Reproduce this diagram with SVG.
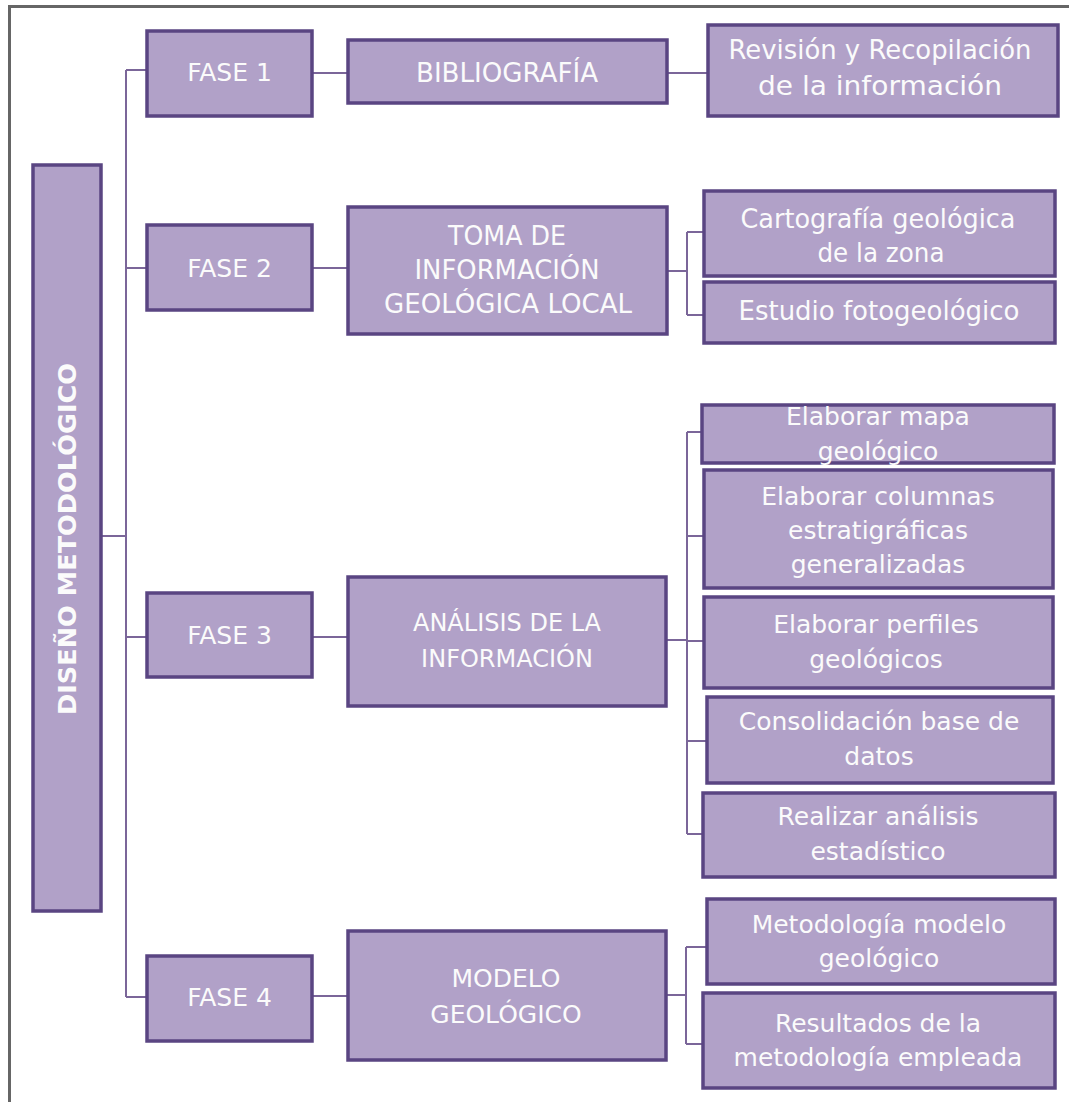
<svg xmlns="http://www.w3.org/2000/svg" width="1069" height="1102" viewBox="0 0 1069 1102">
<style>
.box{fill:#b1a1c8;stroke:#5a4582;stroke-width:3.5}
.t{font-family:"DejaVu Sans",Verdana,sans-serif;font-size:25px;fill:#fbfbfb;text-anchor:middle}
.n{font-family:"DejaVu Sans",Tahoma,sans-serif;font-size:27px;fill:#fbfbfb;text-anchor:middle}
.v{font-family:"DejaVu Sans",Verdana,sans-serif;font-size:24px;font-weight:bold;fill:#fbfbfb;text-anchor:middle}
.c{stroke:#7b6699;stroke-width:2;fill:none}
.frame{stroke:#666666;stroke-width:3;fill:none}
</style>
<rect width="1069" height="1102" fill="#ffffff"/>
<path class="frame" d="M9.5,1102 V6.5 H1069"/>
<g id="connectors">
<path class="c" d="M126,70 V997"/>
<path class="c" d="M101,536 H126"/>
<path class="c" d="M126,70 H147 M126,268 H147 M126,637 H147 M126,997 H147"/>
<path class="c" d="M312,73 H348 M667,73 H708"/>
<path class="c" d="M312,268 H348 M667,271 H687 M687,232 V315 M687,232 H704 M687,315 H704"/>
<path class="c" d="M312,637 H348 M666,640 H687 M687,432 V834 M687,432 H702 M687,536 H704 M687,641 H704 M687,741 H707 M687,834 H703"/>
<path class="c" d="M312,996 H348 M666,995 H686 M686,947 V1044 M686,947 H707 M686,1044 H703"/>
</g>
<g id="diseno">
<rect class="box" x="33" y="165" width="68" height="746"/>
<text class="v" transform="translate(75.5,539) rotate(-90)" textLength="352" lengthAdjust="spacingAndGlyphs">DISEÑO METODOLÓGICO</text>
</g>
<g id="fase1">
<rect class="box" x="147" y="31" width="165" height="85"/>
<text class="t" x="229.5" y="81">FASE 1</text>
</g>
<g id="fase2">
<rect class="box" x="147" y="225" width="165" height="85"/>
<text class="t" x="229.5" y="277">FASE 2</text>
</g>
<g id="fase3">
<rect class="box" x="147" y="593" width="165" height="84"/>
<text class="t" x="229.5" y="644">FASE 3</text>
</g>
<g id="fase4">
<rect class="box" x="147" y="956" width="165" height="85"/>
<text class="t" x="229.5" y="1006">FASE 4</text>
</g>
<g id="bibliografia">
<rect class="box" x="348" y="40" width="319" height="63"/>
<text class="n" x="507" y="82" textLength="182" lengthAdjust="spacingAndGlyphs">BIBLIOGRAFÍA</text>
</g>
<g id="revision">
<rect class="box" x="708" y="25" width="350" height="91"/>
<text class="n" x="880" y="59" textLength="303" lengthAdjust="spacingAndGlyphs">Revisión y Recopilación</text>
<text class="n" x="880" y="95" textLength="244" lengthAdjust="spacingAndGlyphs">de la información</text>
</g>
<g id="toma">
<rect class="box" x="348" y="207" width="319" height="127"/>
<text class="n" x="507" y="245" textLength="118" lengthAdjust="spacingAndGlyphs">TOMA DE</text>
<text class="n" x="507" y="279" textLength="185" lengthAdjust="spacingAndGlyphs">INFORMACIÓN</text>
<text class="n" x="508" y="313" textLength="248" lengthAdjust="spacingAndGlyphs">GEOLÓGICA LOCAL</text>
</g>
<g id="cartografia">
<rect class="box" x="704" y="191" width="351" height="85"/>
<text class="n" x="878" y="228" textLength="275" lengthAdjust="spacingAndGlyphs">Cartografía geológica</text>
<text class="n" x="881" y="262" textLength="127" lengthAdjust="spacingAndGlyphs">de la zona</text>
</g>
<g id="estudio">
<rect class="box" x="704" y="282" width="351" height="61"/>
<text class="n" x="879" y="320" textLength="281" lengthAdjust="spacingAndGlyphs">Estudio fotogeológico</text>
</g>
<g id="analisis">
<rect class="box" x="348" y="577" width="318" height="129"/>
<text class="t" x="507" y="631" style="font-size:24px">ANÁLISIS DE LA</text>
<text class="t" x="507" y="667" style="font-size:24px">INFORMACIÓN</text>
</g>
<g id="mapa">
<rect class="box" x="702" y="405" width="352" height="58"/>
<text class="t" x="878" y="425">Elaborar mapa</text>
<text class="t" x="878" y="460">geológico</text>
</g>
<g id="columnas">
<rect class="box" x="704" y="470" width="349" height="118"/>
<text class="t" x="878" y="505">Elaborar columnas</text>
<text class="t" x="878" y="539">estratigráficas</text>
<text class="t" x="878" y="573">generalizadas</text>
</g>
<g id="perfiles">
<rect class="box" x="704" y="597" width="349" height="91"/>
<text class="t" x="876" y="633">Elaborar perfiles</text>
<text class="t" x="876" y="668">geológicos</text>
</g>
<g id="consolidacion">
<rect class="box" x="707" y="697" width="346" height="86"/>
<text class="t" x="879" y="730">Consolidación base de</text>
<text class="t" x="879" y="765">datos</text>
</g>
<g id="realizar">
<rect class="box" x="703" y="793" width="352" height="84"/>
<text class="t" x="878" y="825">Realizar análisis</text>
<text class="t" x="878" y="860">estadístico</text>
</g>
<g id="modelo">
<rect class="box" x="348" y="931" width="318" height="129"/>
<text class="t" x="506" y="987">MODELO</text>
<text class="t" x="506" y="1023">GEOLÓGICO</text>
</g>
<g id="metodologia">
<rect class="box" x="707" y="899" width="348" height="85"/>
<text class="t" x="879" y="933">Metodología modelo</text>
<text class="t" x="879" y="967">geológico</text>
</g>
<g id="resultados">
<rect class="box" x="703" y="993" width="352" height="95"/>
<text class="t" x="878" y="1032">Resultados de la</text>
<text class="t" x="878" y="1066">metodología empleada</text>
</g>
</svg>
